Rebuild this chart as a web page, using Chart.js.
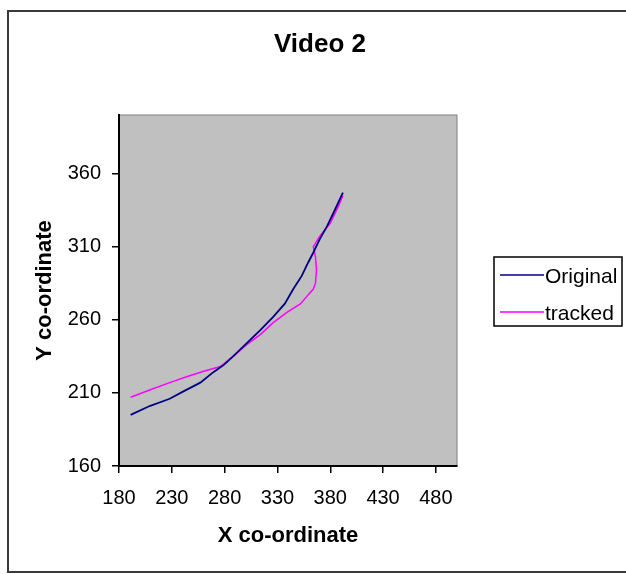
<!DOCTYPE html>
<html lang="en">
  <head>
    <meta charset="UTF-8" />
    <title>Video 2</title>
    <script src="https://cdn.jsdelivr.net/npm/chart.js"></script>
    <style>
      body { margin: 0; background: #fff; }
      #wrap { width: 626px; height: 574px; }
    </style>
  </head>
  <body>
    <div id="wrap"><canvas id="myChart" width="626" height="574"></canvas></div>
    <script>
      // data
      var chartTitle = "Video 2";
      var seriesNames = ["Original", "tracked"];
      var origX = [191, 209, 228, 241, 257, 269, 279, 288, 301, 314, 326, 337, 345, 353, 359, 364, 370, 377, 383, 392];
      var origY = [195, 201, 206, 211, 217, 224, 229, 235, 244, 253, 262, 271, 281, 290, 299, 306, 315, 324, 333, 347];
      var trackX = [191, 209, 228, 244, 261, 276, 288, 301, 314, 326, 339, 352, 359, 364, 366, 367, 366, 364, 370, 380, 388, 392];
      var trackY = [207, 212, 217, 221, 225, 228, 235, 243, 250, 258, 265, 271, 277, 281, 285, 294, 303, 310, 317, 326, 338, 345];
      var xTicks = [180, 230, 280, 330, 380, 430, 480];
      var yTicks = [160, 210, 260, 310, 360];

      function toPoints(xs, ys) {
        var pts = [];
        for (var i = 0; i < xs.length; i++) {
          pts.push({ x: xs[i], y: ys[i] });
        }
        return pts;
      }

      var fontName = "'Liberation Sans', Arial, sans-serif";

      // grey plot area, outer frame, title and legend box
      var backdrop = {
        id: "backdrop",
        beforeDraw: function (chart) {
          var c = chart.ctx, a = chart.chartArea;
          c.save();
          c.strokeStyle = "#3a3a3a";
          c.lineWidth = 2;
          c.strokeRect(8, 11, 700, 561);
          c.fillStyle = "#c0c0c0";
          c.fillRect(a.left, a.top, a.right - a.left, a.bottom - a.top);
          c.strokeStyle = "#808080";
          c.lineWidth = 1;
          c.strokeRect(a.left, a.top, a.right - a.left, a.bottom - a.top);
          c.restore();
        },
        afterDraw: function (chart) {
          var c = chart.ctx;
          var ds = chart.data.datasets;
          c.save();
          c.fillStyle = "#000";
          c.textAlign = "center";
          c.textBaseline = "middle";
          c.font = "bold 26px " + fontName;
          c.fillText(chartTitle, 320, 45);

          c.textAlign = "left";
          c.strokeStyle = "#000";
          c.lineWidth = 1.5;
          c.strokeRect(494, 257, 128, 69);
          c.font = "21px " + fontName;
          for (var i = 0; i < ds.length; i++) {
            var y = 275 + i * 37;
            c.strokeStyle = ds[i].borderColor;
            c.lineWidth = 1.5;
            c.beginPath();
            c.moveTo(500, y);
            c.lineTo(544, y);
            c.stroke();
            c.fillText(ds[i].label, 545, y + 2);
          }
          c.restore();
        },
      };

      var ctx = document.getElementById("myChart").getContext("2d");
      var myChart = new Chart(ctx, {
        type: "scatter",
        data: {
          datasets: [
            {
              label: seriesNames[0],
              data: toPoints(origX, origY),
              showLine: true,
              borderColor: "#000080",
              borderWidth: 1.8,
              pointRadius: 0,
              tension: 0,
            },
            {
              label: seriesNames[1],
              data: toPoints(trackX, trackY),
              showLine: true,
              borderColor: "#ff00ff",
              borderWidth: 1.5,
              pointRadius: 0,
              tension: 0,
            },
          ],
        },
        options: {
          responsive: false,
          animation: false,
          layout: { padding: { left: 14, right: 169, top: 115, bottom: 0 } },
          plugins: {
            legend: { display: false },
            tooltip: { enabled: false },
            title: { display: false },
          },
          scales: {
            x: {
              type: "linear",
              min: 180,
              max: 500,
              afterBuildTicks: function (scale) {
                scale.ticks = xTicks.map(function (v) { return { value: v }; });
              },
              afterFit: function (scale) { scale.height = 108; },
              grid: { drawOnChartArea: false, drawTicks: true, tickLength: 7, color: "#000", lineWidth: 1.5 },
              border: { display: true, color: "#000", width: 2 },
              ticks: { color: "#000", padding: 13, maxRotation: 0, font: { family: fontName, size: 20 } },
              title: {
                display: true,
                text: "X co-ordinate",
                color: "#000",
                font: { family: fontName, size: 22, weight: "bold" },
                padding: { top: 0, bottom: 25 },
              },
            },
            y: {
              type: "linear",
              min: 160,
              max: 400,
              afterBuildTicks: function (scale) {
                scale.ticks = yTicks.map(function (v) { return { value: v }; });
              },
              afterFit: function (scale) { scale.width = 105; },
              grid: { drawOnChartArea: false, drawTicks: true, tickLength: 7, color: "#000", lineWidth: 1.5 },
              border: { display: true, color: "#000", width: 2 },
              ticks: { color: "#000", padding: 11, font: { family: fontName, size: 20 } },
              title: {
                display: true,
                text: "Y co-ordinate",
                color: "#000",
                font: { family: fontName, size: 22, weight: "bold" },
                padding: { top: 18, bottom: 0 },
              },
            },
          },
        },
        plugins: [backdrop],
      });
    </script>
  </body>
</html>
